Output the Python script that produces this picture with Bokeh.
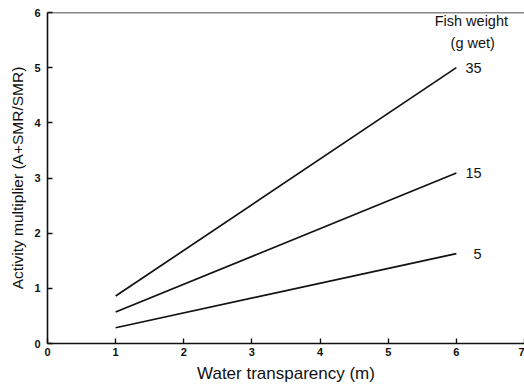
from bokeh.plotting import figure
from bokeh.models import Range1d, FixedTicker, Span, ColumnDataSource
from bokeh.core.properties import value
from bokeh.embed import file_html
from bokeh.resources import INLINE

# Data
transparency = [1, 6]
weights = ["35", "15", "5"]
mult_35 = [0.86, 5.0]
mult_15 = [0.57, 3.09]
mult_5 = [0.285, 1.63]
x_ticks = [0, 1, 2, 3, 4, 5, 6, 7]
y_ticks = [0, 1, 2, 3, 4, 5, 6]

FONT = "Liberation Sans"

p = figure(width=524, height=386, output_backend="svg", toolbar_location=None,
           x_range=Range1d(0, 7.0), y_range=Range1d(0, 6),
           min_border_left=47, min_border_right=0, min_border_top=12, min_border_bottom=43)
p.outline_line_color = None
p.grid.grid_line_color = None
p.background_fill_color = "white"
p.border_fill_color = "white"

for ax in (p.xaxis[0], p.yaxis[0]):
    ax.axis_line_color = "#111111"
    ax.axis_line_width = 1.6
    ax.major_tick_line_color = "#111111"
    ax.major_tick_line_width = 1.4
    ax.major_tick_in = 5
    ax.major_tick_out = 0
    ax.minor_tick_line_color = None
    ax.major_label_text_font = FONT
    ax.major_label_text_font_style = "bold"
    ax.major_label_text_font_size = "11px"
    ax.major_label_text_color = "#111111"
    ax.axis_label_text_font = FONT
    ax.axis_label_text_font_style = "normal"
    ax.axis_label_text_color = "#111111"

p.xaxis.axis_label_text_font_size = "17px"
p.yaxis.axis_label_text_font_size = "15.5px"
p.xaxis.ticker = FixedTicker(ticks=x_ticks)
p.yaxis.ticker = FixedTicker(ticks=y_ticks)
p.xaxis.axis_label = "Water transparency (m)"
p.yaxis.axis_label = "Activity multiplier (A+SMR/SMR)"
p.xaxis.major_label_standoff = 4
p.yaxis.major_label_standoff = 7
p.xaxis.axis_label_standoff = 5
p.yaxis.axis_label_standoff = 5

p.add_layout(Span(location=6, dimension="width", line_color="#111111", line_width=1.6))

for ys in (mult_35, mult_15, mult_5):
    p.line(transparency, ys, line_color="#111111", line_width=1.7)

ends = [mult_35[-1], mult_15[-1], mult_5[-1]]
src = ColumnDataSource(dict(x=[6.37] * 3, y=ends, t=weights))
p.text(x="x", y="y", text="t", source=src, text_align="right", text_baseline="middle",
       text_font=value(FONT), text_font_size="14.5px", text_color="#111111")

p.text(x=[6.22, 6.24], y=[5.85, 5.44], text=["Fish weight", "(g wet)"],
       text_align="center", text_baseline="middle",
       text_font=value(FONT), text_font_size="14.5px", text_color="#111111")

open("out.html", "w").write(file_html(p, INLINE))
